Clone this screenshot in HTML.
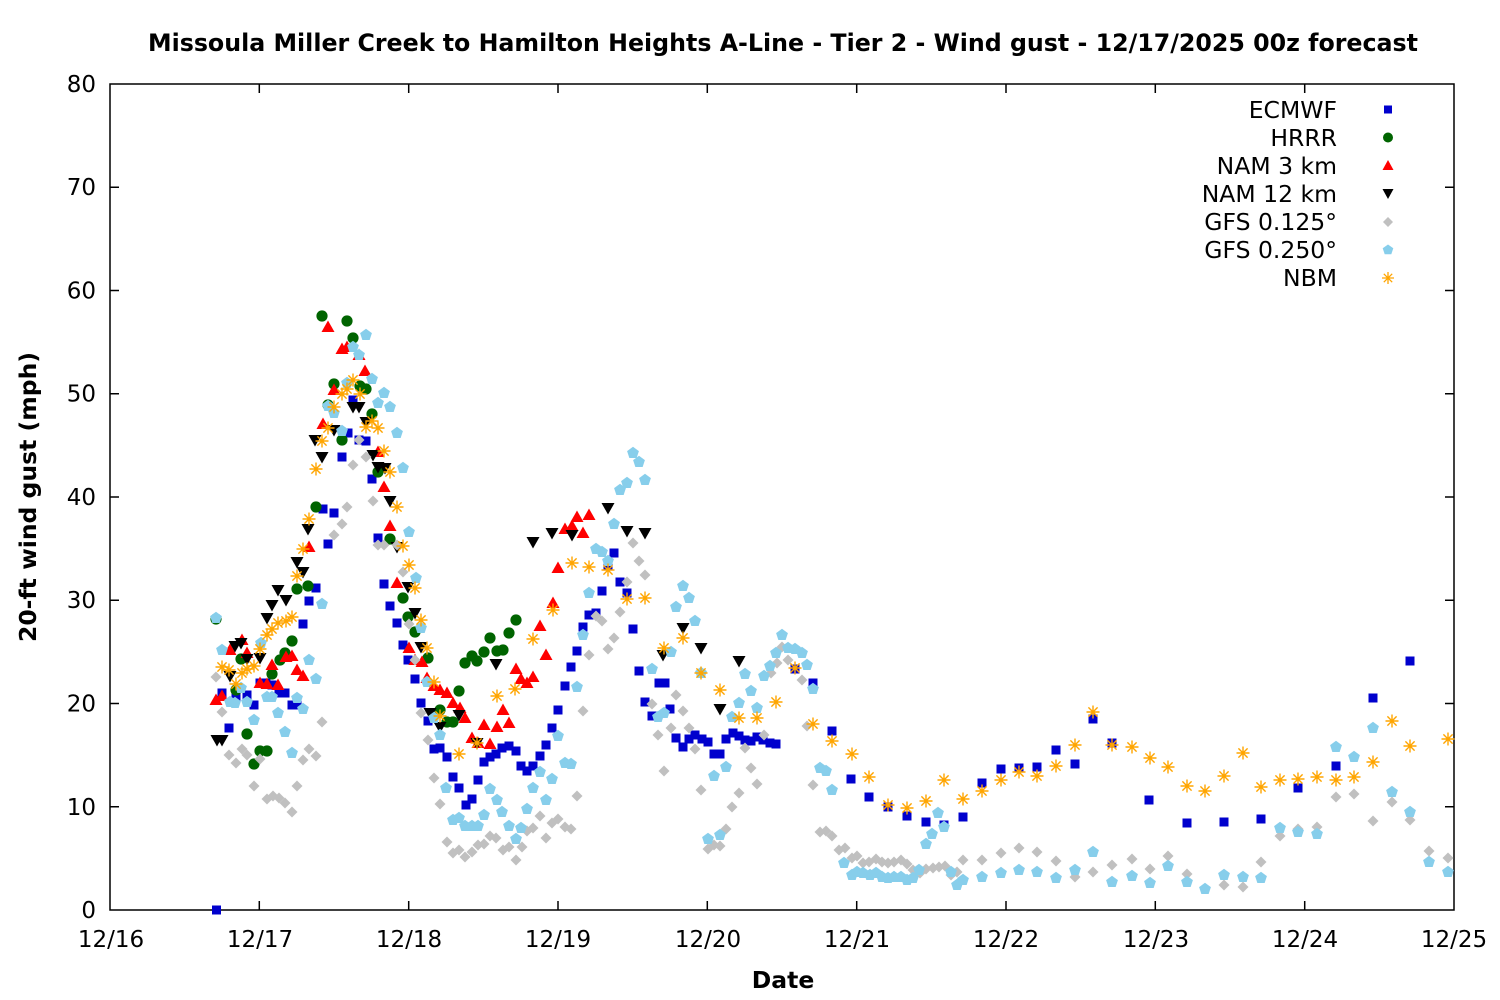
<!DOCTYPE html>
<html><head><meta charset="utf-8"><style>
html,body{margin:0;padding:0;background:#fff;}
svg{display:block;}
text{font-family:"DejaVu Sans","Liberation Sans",sans-serif;fill:#000;}
</style></head><body>
<svg width="1500" height="1000" viewBox="0 0 1500 1000" xmlns="http://www.w3.org/2000/svg">
<defs>
<rect id="sq" x="-4.5" y="-4.5" width="9" height="9" fill="#0000cd"/>
<circle id="ci" r="5.6" fill="#006400"/>
<polygon id="tu" points="0,-6.5 6.5,5 -6.5,5" fill="#ff0000"/>
<polygon id="td" points="0,6.5 6.5,-5 -6.5,-5" fill="#000000"/>
<polygon id="di" points="0,-5.5 5.5,0 0,5.5 -5.5,0" fill="#c0c0c0"/>
<polygon id="pe" points="0,-6.2 5.9,-1.9 3.65,5 -3.65,5 -5.9,-1.9" fill="#87ceeb"/>
<path id="as" d="M-6.5,0H6.5M0,-6.5V6.5M-4.6,-4.6L4.6,4.6M-4.6,4.6L4.6,-4.6" stroke="#ffa500" stroke-width="1.4" fill="none"/>
</defs>
<rect width="1500" height="1000" fill="#fff"/>

<!-- title -->
<text x="783" y="51" text-anchor="middle" font-size="24" font-weight="bold" textLength="1270" lengthAdjust="spacingAndGlyphs">Missoula Miller Creek to Hamilton Heights A-Line - Tier 2 - Wind gust - 12/17/2025 00z forecast</text>

<!-- axes frame -->
<rect x="110" y="84" width="1344" height="826" fill="none" stroke="#000" stroke-width="1.5"/>
<g stroke="#000" stroke-width="1.5">
<path d="M110,806.75h9M110,703.5h9M110,600.25h9M110,497h9M110,393.75h9M110,290.5h9M110,187.25h9"/>
<path d="M1454,806.75h-9M1454,703.5h-9M1454,600.25h-9M1454,497h-9M1454,393.75h-9M1454,290.5h-9M1454,187.25h-9"/>
<path d="M259.3,910v-9M408.7,910v-9M558,910v-9M707.3,910v-9M856.7,910v-9M1006,910v-9M1155.3,910v-9M1304.7,910v-9"/>
<path d="M259.3,84v9M408.7,84v9M558,84v9M707.3,84v9M856.7,84v9M1006,84v9M1155.3,84v9M1304.7,84v9"/>
</g>

<!-- y tick labels -->
<g font-size="23" text-anchor="end">
<text x="96" y="918">0</text>
<text x="96" y="815">10</text>
<text x="96" y="711.5">20</text>
<text x="96" y="608">30</text>
<text x="96" y="505">40</text>
<text x="96" y="401.5">50</text>
<text x="96" y="298.5">60</text>
<text x="96" y="195">70</text>
<text x="96" y="92">80</text>
</g>
<!-- x tick labels -->
<g font-size="23" text-anchor="middle">
<text x="111" y="947">12/16</text>
<text x="260" y="947">12/17</text>
<text x="409" y="947">12/18</text>
<text x="558" y="947">12/19</text>
<text x="708" y="947">12/20</text>
<text x="857" y="947">12/21</text>
<text x="1006" y="947">12/22</text>
<text x="1156" y="947">12/23</text>
<text x="1305" y="947">12/24</text>
<text x="1454" y="947">12/25</text>
</g>
<text x="783" y="988" text-anchor="middle" font-size="23.5" font-weight="bold">Date</text>
<text transform="translate(36,497) rotate(-90)" text-anchor="middle" font-size="23.5" font-weight="bold">20-ft wind gust (mph)</text>

<!-- ECMWF -->
<g>
<use href="#sq" x="216.5" y="910"/><use href="#sq" x="222" y="693"/><use href="#sq" x="229" y="728"/><use href="#sq" x="236" y="697"/><use href="#sq" x="247" y="695"/><use href="#sq" x="254" y="705"/><use href="#sq" x="260" y="683"/><use href="#sq" x="266" y="683"/><use href="#sq" x="272" y="685"/><use href="#sq" x="279" y="693"/><use href="#sq" x="285" y="693"/><use href="#sq" x="292" y="705"/><use href="#sq" x="297" y="705"/><use href="#sq" x="303" y="624"/><use href="#sq" x="309" y="601"/><use href="#sq" x="316" y="588"/><use href="#sq" x="323" y="509"/><use href="#sq" x="328" y="544"/><use href="#sq" x="334" y="513"/><use href="#sq" x="342" y="457"/><use href="#sq" x="348" y="433"/><use href="#sq" x="353" y="400"/><use href="#sq" x="359" y="440"/><use href="#sq" x="366" y="441"/><use href="#sq" x="372" y="479"/><use href="#sq" x="378" y="538"/><use href="#sq" x="384" y="584"/><use href="#sq" x="390" y="606"/><use href="#sq" x="397" y="623"/><use href="#sq" x="403" y="645"/><use href="#sq" x="408" y="660"/><use href="#sq" x="415" y="679"/><use href="#sq" x="421" y="703"/><use href="#sq" x="428" y="721"/><use href="#sq" x="434" y="749"/><use href="#sq" x="440" y="748"/><use href="#sq" x="447" y="757"/><use href="#sq" x="453" y="777"/><use href="#sq" x="459" y="788"/><use href="#sq" x="466" y="805"/><use href="#sq" x="472" y="799"/><use href="#sq" x="478" y="780"/><use href="#sq" x="484" y="762"/><use href="#sq" x="490" y="757"/><use href="#sq" x="496" y="754"/><use href="#sq" x="502" y="748"/><use href="#sq" x="509" y="746"/><use href="#sq" x="516" y="751"/><use href="#sq" x="521" y="766"/><use href="#sq" x="527" y="771"/><use href="#sq" x="533" y="766"/><use href="#sq" x="540" y="756"/><use href="#sq" x="546" y="745"/><use href="#sq" x="552" y="728"/><use href="#sq" x="558" y="710"/><use href="#sq" x="565" y="686"/><use href="#sq" x="571" y="667"/><use href="#sq" x="577" y="651"/><use href="#sq" x="583" y="627"/><use href="#sq" x="589" y="615"/><use href="#sq" x="596" y="613"/><use href="#sq" x="602" y="591"/><use href="#sq" x="608" y="566"/><use href="#sq" x="614" y="553"/><use href="#sq" x="620" y="582"/><use href="#sq" x="627" y="593"/><use href="#sq" x="633" y="629"/><use href="#sq" x="639" y="671"/><use href="#sq" x="645" y="702"/><use href="#sq" x="652" y="716"/><use href="#sq" x="659" y="683"/><use href="#sq" x="665" y="683"/><use href="#sq" x="670" y="709"/><use href="#sq" x="676" y="738"/><use href="#sq" x="683" y="747"/><use href="#sq" x="689" y="739"/><use href="#sq" x="695" y="735"/><use href="#sq" x="702" y="739"/><use href="#sq" x="708" y="742"/><use href="#sq" x="714" y="754"/><use href="#sq" x="720" y="754"/><use href="#sq" x="726" y="739"/><use href="#sq" x="733" y="733"/><use href="#sq" x="739" y="736"/><use href="#sq" x="745" y="740"/><use href="#sq" x="751" y="741"/><use href="#sq" x="757" y="737"/><use href="#sq" x="763" y="740"/><use href="#sq" x="770" y="743"/><use href="#sq" x="776" y="744"/><use href="#sq" x="795" y="669"/><use href="#sq" x="813" y="683"/><use href="#sq" x="832" y="731"/><use href="#sq" x="851" y="779"/><use href="#sq" x="869" y="797"/><use href="#sq" x="888" y="807"/><use href="#sq" x="907" y="816"/><use href="#sq" x="926" y="822"/><use href="#sq" x="944" y="825"/><use href="#sq" x="963" y="817"/><use href="#sq" x="982" y="783"/><use href="#sq" x="1001" y="769"/><use href="#sq" x="1019" y="768"/><use href="#sq" x="1037" y="767"/><use href="#sq" x="1056" y="750"/><use href="#sq" x="1075" y="764"/><use href="#sq" x="1093" y="719"/><use href="#sq" x="1112" y="743"/><use href="#sq" x="1149" y="800"/><use href="#sq" x="1187" y="823"/><use href="#sq" x="1224" y="822"/><use href="#sq" x="1261" y="819"/><use href="#sq" x="1298" y="788"/><use href="#sq" x="1336" y="766"/><use href="#sq" x="1373" y="698"/><use href="#sq" x="1410" y="661"/>
</g>

<!-- HRRR -->
<g>
<use href="#ci" x="216" y="619"/><use href="#ci" x="236" y="690"/><use href="#ci" x="241" y="659"/><use href="#ci" x="247" y="734"/><use href="#ci" x="254" y="764"/><use href="#ci" x="260" y="751"/><use href="#ci" x="267" y="751"/><use href="#ci" x="272" y="674"/><use href="#ci" x="280" y="660"/><use href="#ci" x="285" y="653"/><use href="#ci" x="292" y="641"/><use href="#ci" x="297" y="589"/><use href="#ci" x="308" y="586"/><use href="#ci" x="316" y="507"/><use href="#ci" x="322" y="316"/><use href="#ci" x="328" y="405"/><use href="#ci" x="334" y="384"/><use href="#ci" x="342" y="440"/><use href="#ci" x="347" y="321"/><use href="#ci" x="353" y="338"/><use href="#ci" x="360" y="386"/><use href="#ci" x="366" y="389"/><use href="#ci" x="372" y="414"/><use href="#ci" x="378" y="472"/><use href="#ci" x="390" y="539"/><use href="#ci" x="403" y="598"/><use href="#ci" x="408" y="617"/><use href="#ci" x="415" y="632"/><use href="#ci" x="428" y="658"/><use href="#ci" x="440" y="710"/><use href="#ci" x="447" y="722"/><use href="#ci" x="453" y="722"/><use href="#ci" x="459" y="691"/><use href="#ci" x="465" y="663"/><use href="#ci" x="472" y="656"/><use href="#ci" x="477" y="661"/><use href="#ci" x="484" y="652"/><use href="#ci" x="490" y="638"/><use href="#ci" x="497" y="651"/><use href="#ci" x="503" y="650"/><use href="#ci" x="509" y="633"/><use href="#ci" x="516" y="620"/>
</g>

<!-- NAM 3 km -->
<g>
<use href="#tu" x="216" y="700"/><use href="#tu" x="222" y="696"/><use href="#tu" x="230" y="650"/><use href="#tu" x="242" y="640"/><use href="#tu" x="247" y="653"/><use href="#tu" x="260" y="683"/><use href="#tu" x="267" y="684"/><use href="#tu" x="272" y="665"/><use href="#tu" x="278" y="685"/><use href="#tu" x="286" y="657"/><use href="#tu" x="292" y="656"/><use href="#tu" x="297" y="670"/><use href="#tu" x="303" y="676"/><use href="#tu" x="309" y="547"/><use href="#tu" x="323" y="424"/><use href="#tu" x="328" y="327"/><use href="#tu" x="334" y="390"/><use href="#tu" x="342" y="349"/><use href="#tu" x="347" y="347"/><use href="#tu" x="359" y="355"/><use href="#tu" x="365" y="371"/><use href="#tu" x="378" y="452"/><use href="#tu" x="384" y="487"/><use href="#tu" x="390" y="526"/><use href="#tu" x="397" y="583"/><use href="#tu" x="409" y="648"/><use href="#tu" x="415" y="660"/><use href="#tu" x="422" y="662"/><use href="#tu" x="427" y="678"/><use href="#tu" x="434" y="686"/><use href="#tu" x="440" y="690"/><use href="#tu" x="447" y="693"/><use href="#tu" x="453" y="703"/><use href="#tu" x="460" y="708"/><use href="#tu" x="465" y="718"/><use href="#tu" x="472" y="738"/><use href="#tu" x="478" y="743"/><use href="#tu" x="484" y="725"/><use href="#tu" x="490" y="744"/><use href="#tu" x="497" y="727"/><use href="#tu" x="503" y="710"/><use href="#tu" x="509" y="723"/><use href="#tu" x="516" y="669"/><use href="#tu" x="521" y="679"/><use href="#tu" x="527" y="683"/><use href="#tu" x="533" y="677"/><use href="#tu" x="540" y="626"/><use href="#tu" x="546" y="655"/><use href="#tu" x="553" y="603"/><use href="#tu" x="558" y="568"/><use href="#tu" x="565" y="529"/><use href="#tu" x="572" y="526"/><use href="#tu" x="577" y="517"/><use href="#tu" x="583" y="533"/><use href="#tu" x="589" y="515"/>
</g>

<!-- NAM 12 km -->
<g>
<use href="#td" x="217" y="740"/><use href="#td" x="222" y="740"/><use href="#td" x="230" y="676"/><use href="#td" x="235" y="646"/><use href="#td" x="241" y="643"/><use href="#td" x="247" y="659"/><use href="#td" x="260" y="658"/><use href="#td" x="267" y="618"/><use href="#td" x="272" y="605"/><use href="#td" x="278" y="590"/><use href="#td" x="286" y="600"/><use href="#td" x="297" y="562"/><use href="#td" x="303" y="572"/><use href="#td" x="308" y="529"/><use href="#td" x="315" y="440"/><use href="#td" x="322" y="457"/><use href="#td" x="334" y="430"/><use href="#td" x="353" y="407"/><use href="#td" x="359" y="407"/><use href="#td" x="366" y="422"/><use href="#td" x="373" y="455"/><use href="#td" x="378" y="467"/><use href="#td" x="385" y="468"/><use href="#td" x="390" y="501"/><use href="#td" x="397" y="547"/><use href="#td" x="408" y="587"/><use href="#td" x="415" y="613"/><use href="#td" x="421" y="647"/><use href="#td" x="430" y="713"/><use href="#td" x="440" y="727"/><use href="#td" x="459" y="715"/><use href="#td" x="477" y="743"/><use href="#td" x="496" y="664"/><use href="#td" x="533" y="542"/><use href="#td" x="552" y="533"/><use href="#td" x="572" y="535"/><use href="#td" x="608" y="508"/><use href="#td" x="627" y="531"/><use href="#td" x="645" y="533"/><use href="#td" x="663" y="655"/><use href="#td" x="683" y="628"/><use href="#td" x="701" y="648"/><use href="#td" x="720" y="709"/><use href="#td" x="739" y="661"/>
</g>

<!-- GFS 0.125 -->
<g>
<use href="#di" x="216" y="677"/><use href="#di" x="222" y="712"/><use href="#di" x="229" y="755"/><use href="#di" x="236" y="763"/><use href="#di" x="242" y="749"/><use href="#di" x="247" y="755"/><use href="#di" x="254" y="786"/><use href="#di" x="260" y="759"/><use href="#di" x="267" y="799"/><use href="#di" x="273" y="796"/><use href="#di" x="279" y="798"/><use href="#di" x="285" y="803"/><use href="#di" x="292" y="812"/><use href="#di" x="297" y="786"/><use href="#di" x="303" y="760"/><use href="#di" x="309" y="749"/><use href="#di" x="316" y="756"/><use href="#di" x="322" y="722"/><use href="#di" x="334" y="535"/><use href="#di" x="342" y="524"/><use href="#di" x="347" y="507"/><use href="#di" x="353" y="465"/><use href="#di" x="359" y="440"/><use href="#di" x="366" y="457"/><use href="#di" x="373" y="501"/><use href="#di" x="378" y="545"/><use href="#di" x="384" y="545"/><use href="#di" x="397" y="545"/><use href="#di" x="403" y="572"/><use href="#di" x="409" y="624"/><use href="#di" x="415" y="660"/><use href="#di" x="421" y="713"/><use href="#di" x="428" y="740"/><use href="#di" x="434" y="778"/><use href="#di" x="440" y="804"/><use href="#di" x="447" y="842"/><use href="#di" x="453" y="853"/><use href="#di" x="459" y="850"/><use href="#di" x="465" y="857"/><use href="#di" x="472" y="852"/><use href="#di" x="478" y="845"/><use href="#di" x="484" y="844"/><use href="#di" x="490" y="836"/><use href="#di" x="496" y="838"/><use href="#di" x="503" y="850"/><use href="#di" x="509" y="847"/><use href="#di" x="516" y="860"/><use href="#di" x="522" y="847"/><use href="#di" x="527" y="831"/><use href="#di" x="533" y="828"/><use href="#di" x="540" y="816"/><use href="#di" x="546" y="838"/><use href="#di" x="552" y="823"/><use href="#di" x="558" y="819"/><use href="#di" x="565" y="827"/><use href="#di" x="571" y="829"/><use href="#di" x="577" y="796"/><use href="#di" x="583" y="711"/><use href="#di" x="589" y="655"/><use href="#di" x="596" y="616"/><use href="#di" x="602" y="621"/><use href="#di" x="608" y="649"/><use href="#di" x="614" y="638"/><use href="#di" x="620" y="612"/><use href="#di" x="627" y="582"/><use href="#di" x="633" y="543"/><use href="#di" x="639" y="561"/><use href="#di" x="645" y="575"/><use href="#di" x="652" y="704"/><use href="#di" x="658" y="735"/><use href="#di" x="664" y="771"/><use href="#di" x="671" y="728"/><use href="#di" x="676" y="695"/><use href="#di" x="683" y="711"/><use href="#di" x="689" y="728"/><use href="#di" x="695" y="749"/><use href="#di" x="701" y="790"/><use href="#di" x="708" y="849"/><use href="#di" x="714" y="845"/><use href="#di" x="720" y="846"/><use href="#di" x="726" y="829"/><use href="#di" x="732" y="807"/><use href="#di" x="739" y="793"/><use href="#di" x="745" y="748"/><use href="#di" x="751" y="768"/><use href="#di" x="757" y="784"/><use href="#di" x="764" y="735"/><use href="#di" x="771" y="673"/><use href="#di" x="777" y="663"/><use href="#di" x="782" y="647"/><use href="#di" x="788" y="660"/><use href="#di" x="802" y="680"/><use href="#di" x="807" y="726"/><use href="#di" x="813" y="785"/><use href="#di" x="820" y="832"/><use href="#di" x="826" y="831"/><use href="#di" x="832" y="836"/><use href="#di" x="839" y="850"/><use href="#di" x="845" y="848"/><use href="#di" x="852" y="858"/><use href="#di" x="857" y="856"/><use href="#di" x="863" y="863"/><use href="#di" x="869" y="862"/><use href="#di" x="876" y="859"/><use href="#di" x="882" y="862"/><use href="#di" x="888" y="863"/><use href="#di" x="894" y="862"/><use href="#di" x="901" y="860"/><use href="#di" x="907" y="864"/><use href="#di" x="913" y="870"/><use href="#di" x="920" y="873"/><use href="#di" x="926" y="869"/><use href="#di" x="933" y="868"/><use href="#di" x="939" y="867"/><use href="#di" x="945" y="866"/><use href="#di" x="951" y="875"/><use href="#di" x="957" y="872"/><use href="#di" x="963" y="860"/><use href="#di" x="982" y="860"/><use href="#di" x="1001" y="853"/><use href="#di" x="1019" y="848"/><use href="#di" x="1037" y="852"/><use href="#di" x="1056" y="861"/><use href="#di" x="1075" y="877"/><use href="#di" x="1093" y="872"/><use href="#di" x="1112" y="865"/><use href="#di" x="1132" y="859"/><use href="#di" x="1150" y="869"/><use href="#di" x="1168" y="856"/><use href="#di" x="1187" y="874"/><use href="#di" x="1224" y="885"/><use href="#di" x="1243" y="887"/><use href="#di" x="1261" y="862"/><use href="#di" x="1280" y="836"/><use href="#di" x="1298" y="829"/><use href="#di" x="1317" y="827"/><use href="#di" x="1336" y="797"/><use href="#di" x="1354" y="794"/><use href="#di" x="1373" y="821"/><use href="#di" x="1392" y="802"/><use href="#di" x="1410" y="820"/><use href="#di" x="1429" y="851"/><use href="#di" x="1448" y="858"/>
</g>

<!-- GFS 0.250 -->
<g>
<use href="#pe" x="216" y="618"/><use href="#pe" x="222" y="650"/><use href="#pe" x="230" y="702"/><use href="#pe" x="235" y="703"/><use href="#pe" x="241" y="688"/><use href="#pe" x="247" y="702"/><use href="#pe" x="254" y="720"/><use href="#pe" x="261" y="643"/><use href="#pe" x="267" y="697"/><use href="#pe" x="272" y="697"/><use href="#pe" x="278" y="713"/><use href="#pe" x="285" y="732"/><use href="#pe" x="292" y="753"/><use href="#pe" x="297" y="698"/><use href="#pe" x="303" y="709"/><use href="#pe" x="309" y="660"/><use href="#pe" x="316" y="679"/><use href="#pe" x="322" y="604"/><use href="#pe" x="328" y="406"/><use href="#pe" x="334" y="413"/><use href="#pe" x="342" y="431"/><use href="#pe" x="347" y="383"/><use href="#pe" x="353" y="347"/><use href="#pe" x="359" y="355"/><use href="#pe" x="366" y="335"/><use href="#pe" x="372" y="379"/><use href="#pe" x="378" y="403"/><use href="#pe" x="384" y="393"/><use href="#pe" x="390" y="407"/><use href="#pe" x="397" y="433"/><use href="#pe" x="403" y="468"/><use href="#pe" x="409" y="532"/><use href="#pe" x="416" y="578"/><use href="#pe" x="421" y="628"/><use href="#pe" x="427" y="682"/><use href="#pe" x="434" y="718"/><use href="#pe" x="440" y="735"/><use href="#pe" x="446" y="788"/><use href="#pe" x="453" y="820"/><use href="#pe" x="459" y="818"/><use href="#pe" x="465" y="826"/><use href="#pe" x="472" y="826"/><use href="#pe" x="478" y="826"/><use href="#pe" x="484" y="815"/><use href="#pe" x="490" y="789"/><use href="#pe" x="497" y="800"/><use href="#pe" x="502" y="812"/><use href="#pe" x="509" y="826"/><use href="#pe" x="516" y="839"/><use href="#pe" x="521" y="828"/><use href="#pe" x="527" y="809"/><use href="#pe" x="533" y="788"/><use href="#pe" x="540" y="772"/><use href="#pe" x="546" y="800"/><use href="#pe" x="552" y="779"/><use href="#pe" x="558" y="736"/><use href="#pe" x="565" y="763"/><use href="#pe" x="571" y="764"/><use href="#pe" x="577" y="687"/><use href="#pe" x="583" y="635"/><use href="#pe" x="589" y="593"/><use href="#pe" x="596" y="549"/><use href="#pe" x="602" y="552"/><use href="#pe" x="608" y="561"/><use href="#pe" x="614" y="524"/><use href="#pe" x="620" y="490"/><use href="#pe" x="627" y="483"/><use href="#pe" x="633" y="453"/><use href="#pe" x="639" y="462"/><use href="#pe" x="645" y="480"/><use href="#pe" x="652" y="669"/><use href="#pe" x="658" y="717"/><use href="#pe" x="664" y="713"/><use href="#pe" x="671" y="652"/><use href="#pe" x="676" y="607"/><use href="#pe" x="683" y="586"/><use href="#pe" x="689" y="598"/><use href="#pe" x="695" y="621"/><use href="#pe" x="701" y="673"/><use href="#pe" x="708" y="839"/><use href="#pe" x="714" y="776"/><use href="#pe" x="720" y="835"/><use href="#pe" x="726" y="767"/><use href="#pe" x="732" y="717"/><use href="#pe" x="739" y="703"/><use href="#pe" x="745" y="674"/><use href="#pe" x="751" y="691"/><use href="#pe" x="757" y="708"/><use href="#pe" x="764" y="676"/><use href="#pe" x="770" y="666"/><use href="#pe" x="776" y="653"/><use href="#pe" x="782" y="635"/><use href="#pe" x="788" y="648"/><use href="#pe" x="795" y="649"/><use href="#pe" x="802" y="653"/><use href="#pe" x="807" y="665"/><use href="#pe" x="813" y="689"/><use href="#pe" x="820" y="768"/><use href="#pe" x="826" y="771"/><use href="#pe" x="832" y="790"/><use href="#pe" x="844" y="863"/><use href="#pe" x="852" y="875"/><use href="#pe" x="857" y="872"/><use href="#pe" x="863" y="873"/><use href="#pe" x="870" y="875"/><use href="#pe" x="876" y="873"/><use href="#pe" x="882" y="877"/><use href="#pe" x="888" y="878"/><use href="#pe" x="894" y="877"/><use href="#pe" x="901" y="877"/><use href="#pe" x="907" y="880"/><use href="#pe" x="913" y="878"/><use href="#pe" x="919" y="870"/><use href="#pe" x="926" y="844"/><use href="#pe" x="932" y="834"/><use href="#pe" x="938" y="813"/><use href="#pe" x="944" y="827"/><use href="#pe" x="951" y="872"/><use href="#pe" x="957" y="885"/><use href="#pe" x="963" y="880"/><use href="#pe" x="982" y="877"/><use href="#pe" x="1001" y="873"/><use href="#pe" x="1019" y="870"/><use href="#pe" x="1037" y="872"/><use href="#pe" x="1056" y="878"/><use href="#pe" x="1075" y="870"/><use href="#pe" x="1093" y="852"/><use href="#pe" x="1112" y="882"/><use href="#pe" x="1132" y="876"/><use href="#pe" x="1150" y="883"/><use href="#pe" x="1168" y="866"/><use href="#pe" x="1187" y="882"/><use href="#pe" x="1205" y="889"/><use href="#pe" x="1224" y="875"/><use href="#pe" x="1243" y="877"/><use href="#pe" x="1261" y="878"/><use href="#pe" x="1280" y="828"/><use href="#pe" x="1298" y="832"/><use href="#pe" x="1317" y="834"/><use href="#pe" x="1336" y="747"/><use href="#pe" x="1354" y="757"/><use href="#pe" x="1373" y="728"/><use href="#pe" x="1392" y="792"/><use href="#pe" x="1410" y="812"/><use href="#pe" x="1429" y="862"/><use href="#pe" x="1448" y="872"/>
</g>

<!-- NBM -->
<g>
<use href="#as" x="222" y="667"/><use href="#as" x="229" y="670"/><use href="#as" x="236" y="684"/><use href="#as" x="242" y="673"/><use href="#as" x="247" y="669"/><use href="#as" x="254" y="666"/><use href="#as" x="260" y="649"/><use href="#as" x="267" y="635"/><use href="#as" x="272" y="629"/><use href="#as" x="278" y="623"/><use href="#as" x="286" y="621"/><use href="#as" x="292" y="617"/><use href="#as" x="297" y="576"/><use href="#as" x="303" y="549"/><use href="#as" x="309" y="519"/><use href="#as" x="316" y="469"/><use href="#as" x="322" y="441"/><use href="#as" x="328" y="428"/><use href="#as" x="334" y="407"/><use href="#as" x="342" y="394"/><use href="#as" x="347" y="389"/><use href="#as" x="353" y="380"/><use href="#as" x="360" y="394"/><use href="#as" x="366" y="427"/><use href="#as" x="372" y="421"/><use href="#as" x="378" y="428"/><use href="#as" x="384" y="451"/><use href="#as" x="390" y="472"/><use href="#as" x="397" y="507"/><use href="#as" x="403" y="546"/><use href="#as" x="409" y="565"/><use href="#as" x="415" y="588"/><use href="#as" x="421" y="620"/><use href="#as" x="427" y="648"/><use href="#as" x="434" y="682"/><use href="#as" x="440" y="716"/><use href="#as" x="459" y="754"/><use href="#as" x="477" y="743"/><use href="#as" x="497" y="696"/><use href="#as" x="515" y="689"/><use href="#as" x="533" y="639"/><use href="#as" x="553" y="610"/><use href="#as" x="572" y="563"/><use href="#as" x="589" y="567"/><use href="#as" x="608" y="570"/><use href="#as" x="627" y="599"/><use href="#as" x="645" y="598"/><use href="#as" x="664" y="648"/><use href="#as" x="683" y="638"/><use href="#as" x="701" y="673"/><use href="#as" x="720" y="690"/><use href="#as" x="739" y="718"/><use href="#as" x="757" y="718"/><use href="#as" x="776" y="702"/><use href="#as" x="795" y="668"/><use href="#as" x="813" y="724"/><use href="#as" x="832" y="741"/><use href="#as" x="852" y="754"/><use href="#as" x="869" y="777"/><use href="#as" x="888" y="805"/><use href="#as" x="907" y="808"/><use href="#as" x="926" y="801"/><use href="#as" x="944" y="780"/><use href="#as" x="963" y="799"/><use href="#as" x="982" y="791"/><use href="#as" x="1001" y="780"/><use href="#as" x="1019" y="772"/><use href="#as" x="1037" y="776"/><use href="#as" x="1056" y="766"/><use href="#as" x="1075" y="745"/><use href="#as" x="1093" y="712"/><use href="#as" x="1112" y="745"/><use href="#as" x="1132" y="747"/><use href="#as" x="1150" y="758"/><use href="#as" x="1168" y="767"/><use href="#as" x="1187" y="786"/><use href="#as" x="1205" y="791"/><use href="#as" x="1224" y="776"/><use href="#as" x="1243" y="753"/><use href="#as" x="1261" y="787"/><use href="#as" x="1280" y="780"/><use href="#as" x="1298" y="779"/><use href="#as" x="1317" y="777"/><use href="#as" x="1336" y="780"/><use href="#as" x="1354" y="777"/><use href="#as" x="1373" y="762"/><use href="#as" x="1392" y="721"/><use href="#as" x="1410" y="746"/><use href="#as" x="1448" y="739"/>
</g>

<!-- legend -->
<g font-size="23.5" text-anchor="end">
<text x="1337" y="118">ECMWF</text>
<text x="1337" y="146">HRRR</text>
<text x="1337" y="174">NAM 3 km</text>
<text x="1337" y="202">NAM 12 km</text>
<text x="1337" y="230">GFS 0.125°</text>
<text x="1337" y="258">GFS 0.250°</text>
<text x="1337" y="286">NBM</text>
</g>
<rect x="1384" y="105.5" width="8" height="8" fill="#0000cd"/>
<circle cx="1388" cy="137.5" r="5" fill="#006400"/>
<polygon points="1388,160 1393.5,170 1382.5,170" fill="#ff0000"/>
<polygon points="1388,199 1393.5,189 1382.5,189" fill="#000"/>
<polygon points="1388,217 1393,222 1388,227 1383,222" fill="#c0c0c0"/>
<polygon points="1388,244.5 1393.3,248.3 1391.3,254.2 1384.7,254.2 1382.7,248.3" fill="#87ceeb"/>
<path d="M1382,278H1394M1388,272V284M1383.8,273.8L1392.2,282.2M1383.8,282.2L1392.2,273.8" stroke="#ffa500" stroke-width="1.3" fill="none"/>
</svg>
</body></html>
